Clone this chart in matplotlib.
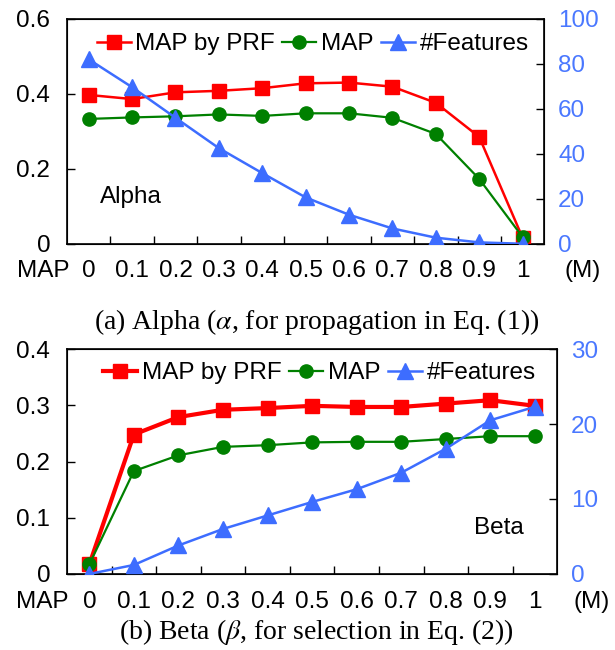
import matplotlib
matplotlib.use("Agg")
import matplotlib.pyplot as plt

plt.rcParams['font.family'] = ['Liberation Sans', 'DejaVu Sans']
plt.rcParams['mathtext.fontset'] = 'stix'

xlabels = ['0', '0.1', '0.2', '0.3', '0.4', '0.5', '0.6', '0.7', '0.8', '0.9', '1']

# (a) alpha
alpha_prf = [0.397, 0.386, 0.404, 0.408, 0.415, 0.428, 0.430, 0.419, 0.376, 0.285, 0.016]
alpha_map = [0.333, 0.337, 0.340, 0.345, 0.341, 0.348, 0.348, 0.336, 0.293, 0.173, 0.018]
alpha_feat = [82, 69.6, 56, 42.5, 31.4, 20.6, 12.9, 6.8, 2.7, 0.6, 0]

# (b) beta
beta_prf = [0.017, 0.248, 0.279, 0.292, 0.295, 0.299, 0.297, 0.297, 0.303, 0.309, 0.299]
beta_map = [0.017, 0.183, 0.211, 0.226, 0.229, 0.234, 0.235, 0.235, 0.240, 0.245, 0.245]
beta_feat = [0, 1.2, 3.8, 6.0, 7.8, 9.6, 11.3, 13.5, 16.7, 20.5, 22.3]

RED = '#ff0000'
GREEN = '#008000'
BLUE = '#3d6dff'
BLUE_TXT = '#4a78ff'
FS = 17.5

fig = plt.figure(figsize=(6.15, 6.5), dpi=100)


def panel(rect, prf, mp, feat, ymax, yticks, fmax, fticks, prf_lw, tag, tagpos, legy, mpos):
    ax = fig.add_axes(rect)
    x = list(range(len(xlabels)))
    ax.plot(x, prf, color=RED, lw=prf_lw, marker='s', ms=9.5, label='MAP by PRF', zorder=3)
    ax.plot(x, mp, color=GREEN, lw=1.6, marker='o', ms=9.5, label='MAP', zorder=3)
    ax.set_xlim(-0.5, len(xlabels) - 0.5)
    ax.set_ylim(0, ymax)
    ax.set_yticks(yticks)
    ax.set_yticklabels(['0' if v == 0 else ('%g' % v) for v in yticks], fontsize=FS)
    ax.set_xticks(x)
    ax.set_xticklabels(xlabels, fontsize=FS)
    ax.set_xticks([i + 0.5 for i in x[:-1]], minor=True)
    ax.tick_params(axis='x', which='major', length=0, pad=12)
    ax.tick_params(axis='x', which='minor', direction='in', length=6, width=1)
    ax.tick_params(axis='y', direction='in', length=6, width=1, pad=12)
    for s in ax.spines.values():
        s.set_linewidth(1.2)

    ax2 = ax.twinx()
    ax2.plot(x, feat, color=BLUE, lw=1.8, marker='^', ms=11, label='#Features', zorder=3)
    ax2.set_ylim(0, fmax)
    ax2.set_yticks(fticks)
    ax2.set_yticklabels([str(v) for v in fticks], fontsize=FS, color=BLUE_TXT)
    ax2.tick_params(axis='y', direction='in', length=6, width=1, pad=10)
    ax2.set_xlim(-0.5, len(xlabels) - 0.5)

    h1, l1 = ax.get_legend_handles_labels()
    h2, l2 = ax2.get_legend_handles_labels()
    ax2.legend(h1 + h2, l1 + l2, ncol=3, frameon=False, fontsize=FS,
               loc='center', bbox_to_anchor=(0.515, legy), handlelength=1.4,
               handletextpad=0.2, columnspacing=0.3, borderaxespad=0)

    ax.text(tagpos[0], tagpos[1], tag, transform=ax.transAxes, fontsize=FS,
            ha='left', va='center')
    ax.annotate('MAP', xy=(mpos[0], 0), xycoords='axes fraction', xytext=(0, -12),
                textcoords='offset points', ha='center', va='top', fontsize=FS)
    ax.annotate('(M)', xy=(mpos[1], 0), xycoords='axes fraction', xytext=(0, -12),
                textcoords='offset points', ha='center', va='top', fontsize=FS)
    return ax


panel([0.109, 0.625, 0.776, 0.346], alpha_prf, alpha_map, alpha_feat,
      0.6, [0, 0.2, 0.4, 0.6], 100, [0, 20, 40, 60, 80, 100], 1.8,
      'Alpha', (0.07, 0.21), 0.888, (-0.05, 1.08))
fig.text(0.515, 0.505, r'(a) Alpha ($\alpha$, for propagation in Eq. (1))',
         family='Liberation Serif', fontsize=20, ha='center', va='center')

panel([0.109, 0.117, 0.797, 0.346], beta_prf, beta_map, beta_feat,
      0.4, [0, 0.1, 0.2, 0.3, 0.4], 30, [0, 10, 20, 30], 3.0,
      'Beta', (0.83, 0.204), 0.893, (-0.05, 1.07))
fig.text(0.515, 0.028, r'(b) Beta ($\beta$, for selection in Eq. (2))',
         family='Liberation Serif', fontsize=20, ha='center', va='center')

fig.savefig('out.png', dpi=100)
